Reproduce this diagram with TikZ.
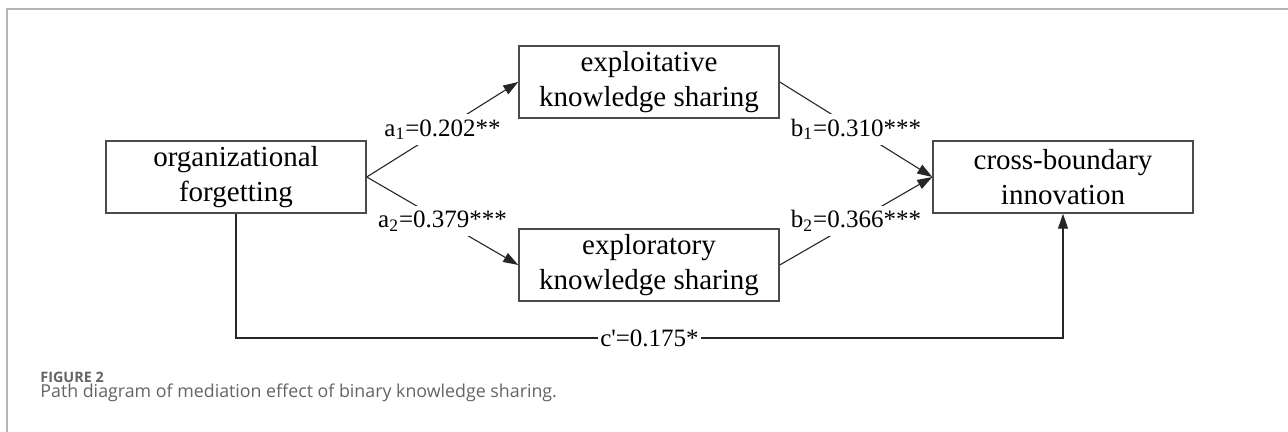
\documentclass[tikz,border=0pt]{standalone}
\usepackage{fontspec}
\setmainfont{Liberation Serif}
\newfontfamily\capfont{Open Sans}
\usetikzlibrary{arrows.meta}
\definecolor{framegray}{RGB}{180,180,180}
\definecolor{boxgray}{RGB}{75,75,75}
\definecolor{capgray}{RGB}{100,100,100}

\begin{document}
\begin{tikzpicture}[x=0.5pt,y=0.5pt,
	var/.style={draw=boxgray,line width=0.75pt,minimum width=130pt,minimum height=36pt,
		align=center,inner sep=0pt,font=\fontsize{14.5}{17.5}\selectfont},
	link/.style={draw=black!85,line width=0.55pt,-{Triangle[length=7.5pt,width=5pt]}},
	coef/.style={fill=white,inner sep=2.5pt,font=\fontsize{12.5}{15}\selectfont},
	caption/.style={anchor=base west,inner sep=0pt,text=capgray}]
	\useasboundingbox (0,0) rectangle (1288,432);
	\draw[framegray,line width=1pt] (7,-4) -- (7,423) -- (1292,423);
	
	\node[var] (forget) at (236,255) {organizational\\forgetting};
	\node[var] (exploit) at (649,350) {exploitative\\knowledge sharing};
	\node[var] (explore) at (649,167) {exploratory\\knowledge sharing};
	\node[var] (cross) at (1063,255) {cross-boundary\\innovation};
	\coordinate (turn) at (1063,94);
	
	\draw[link] (forget.east) -- node[coef]{a\textsubscript{1}=0.202**} (exploit.west);
	\draw[link] (forget.east) -- node[coef]{a\textsubscript{2}=0.379***} (explore.west);
	\draw[link] (exploit.east) -- node[coef]{b\textsubscript{1}=0.310***} (cross.west);
	\draw[link] (explore.east) -- node[coef]{b\textsubscript{2}=0.366***} (cross.west);
	\draw[link] (forget.south) |- node[coef,pos=0.75,inner sep=1pt]{c\textquotesingle=0.175*} (turn) -- (cross.south);
	
	\node[caption,font=\capfont\fontsize{7.2}{9}\selectfont\bfseries] (fig) at (40,49) {FIGURE 2};
	\node[caption,font=\capfont\fontsize{8.9}{11}\selectfont] (cap) at (40,34) {Path diagram of mediation effect of binary knowledge sharing.};
\end{tikzpicture}
\end{document}
